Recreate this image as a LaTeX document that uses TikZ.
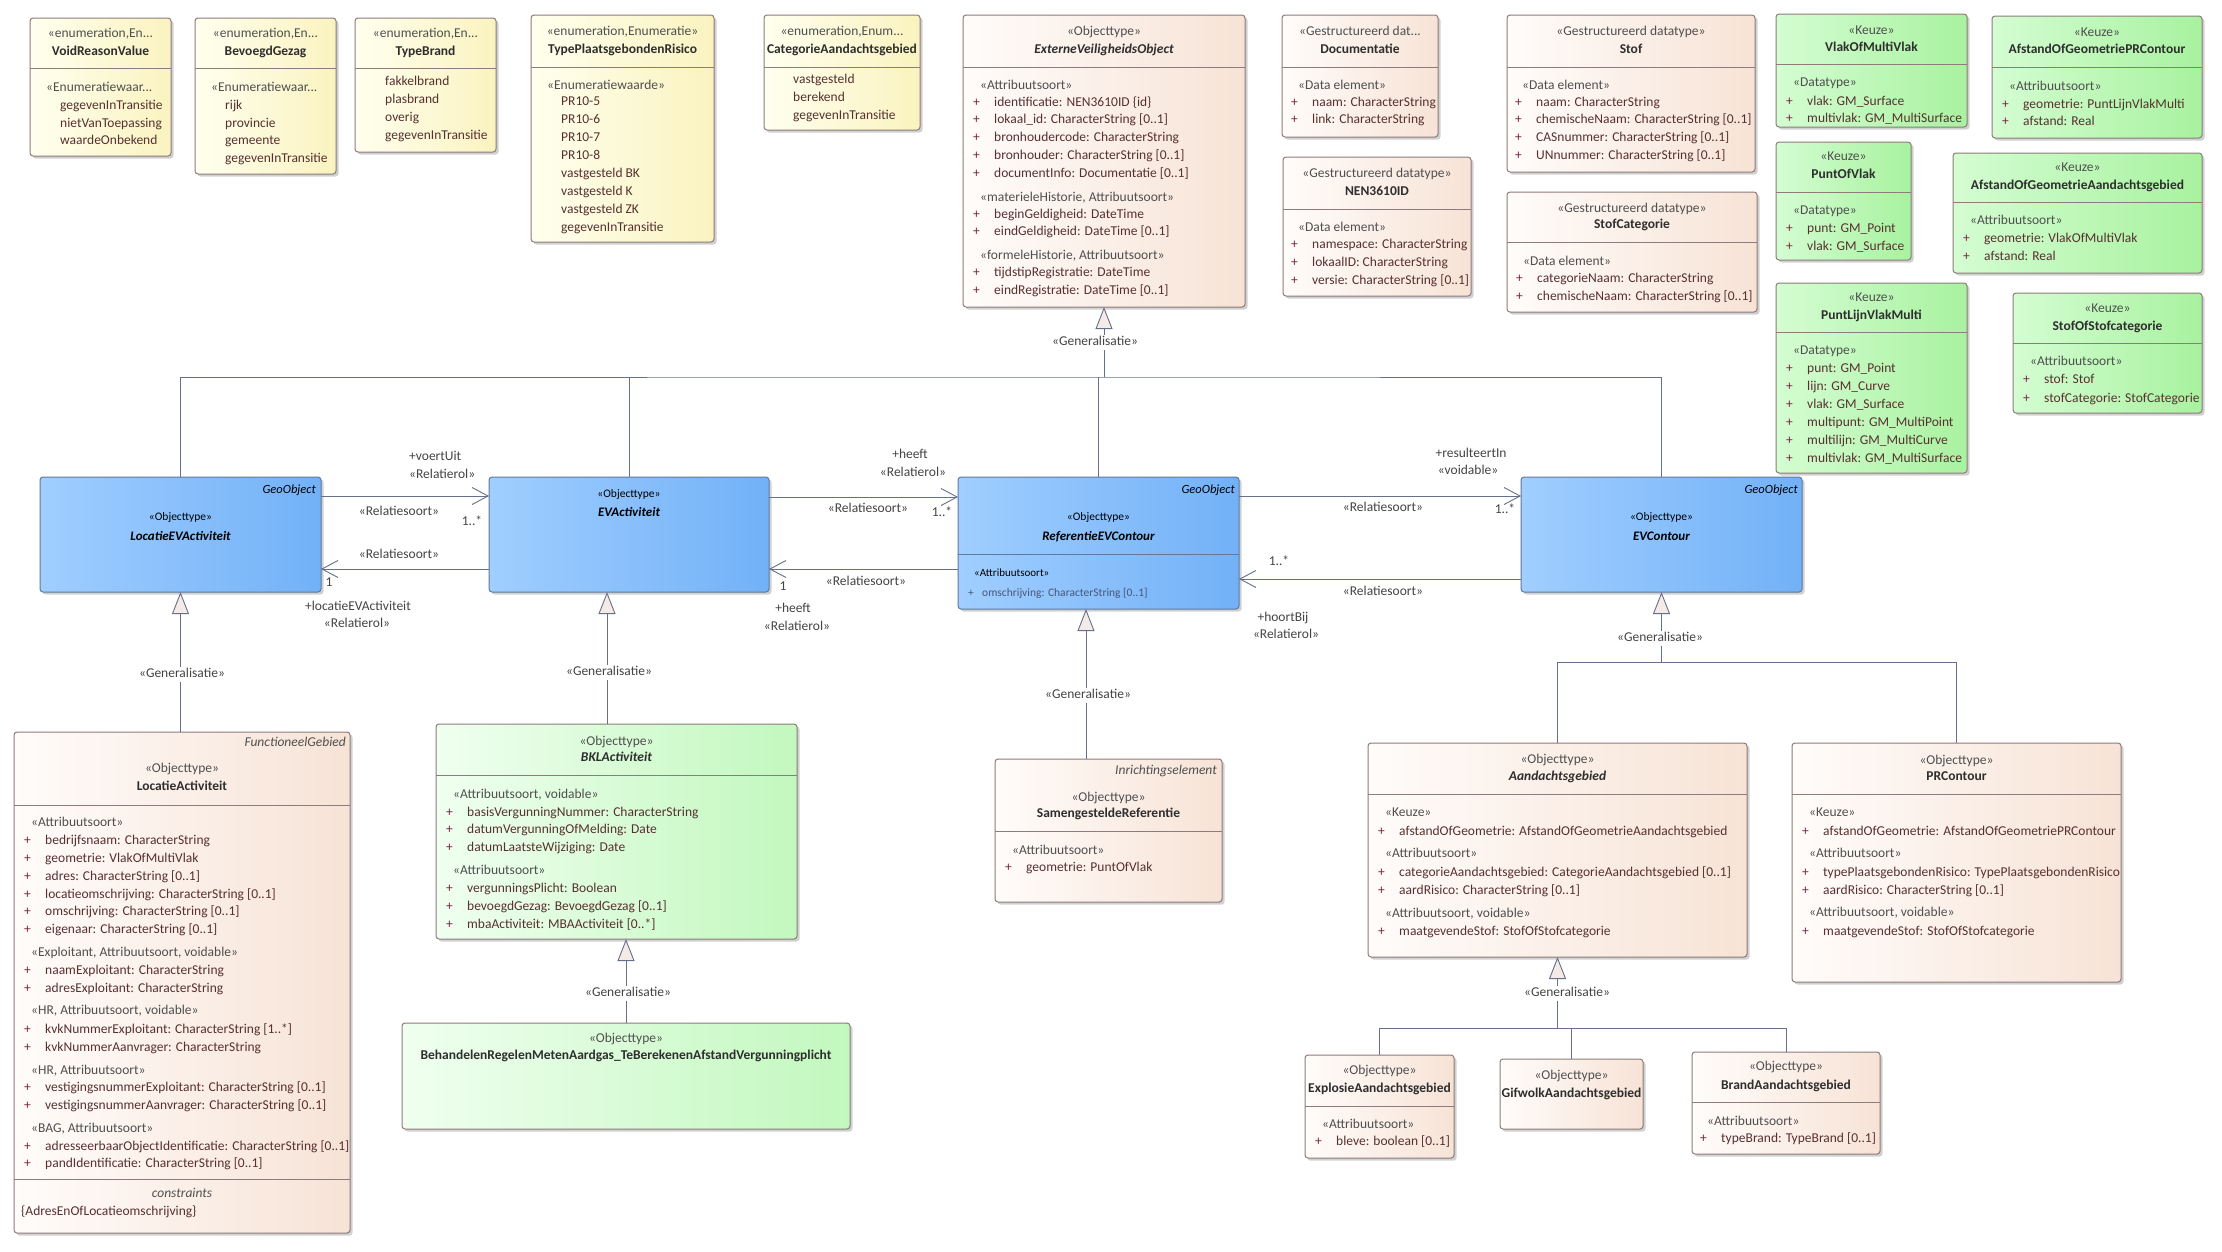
\documentclass[tikz,border=0pt]{standalone}
\usepackage{fontspec}
\setmainfont{Carlito}
\usetikzlibrary{arrows.meta,shadows}
\definecolor{bordc}{HTML}{8E7C7C}
\definecolor{blueb}{HTML}{5F7A9E}
\definecolor{linec}{HTML}{66708C}
\definecolor{yelL}{HTML}{FFFFEE}
\definecolor{yelR}{HTML}{FAF3C0}
\definecolor{peaL}{HTML}{FFFCFA}
\definecolor{peaR}{HTML}{F7E3D6}
\definecolor{grnL}{HTML}{D4FDD2}
\definecolor{grnR}{HTML}{A8F29F}
\definecolor{gr2L}{HTML}{F0FFF0}
\definecolor{gr2R}{HTML}{C2F8BE}
\definecolor{bluL}{HTML}{A0CEFF}
\definecolor{bluR}{HTML}{72B1F7}
\definecolor{namec}{HTML}{2E2E2E}
\definecolor{stc}{HTML}{4F4F4F}
\definecolor{attrc}{HTML}{573030}
\definecolor{plusc}{HTML}{7A2345}
\definecolor{labc}{HTML}{444444}
\definecolor{genf}{HTML}{F4EAE6}
\definecolor{refc}{HTML}{4A5675}
\newcommand\mainf{\fontsize{13.5}{16}\selectfont}
\newcommand\attp{\makebox[21pt][l]{\textcolor{plusc}{+}}}
\newcommand\stt{\hspace*{7pt}\color{stc}}
\newcommand\enit{\hspace*{21pt}}
\newcommand\ubox[6]{\node[#2,minimum width=#5pt,minimum height=#6pt] (#1) at (#3,#4) {};}
\newcommand\udiv[2]{\draw[divl] (#1.west |- 0,#2) -- (#1.east |- 0,#2);}
\newcommand\compt[3]{\foreach \lnY/\lnT [count=\lnI] in {#3}{\node[ln] (#1-\lnI) at (#2,\lnY) {\lnT};}}
\newcommand\hdr[6]{\node[hd,text=stc] (#1-s) at (#2,#3) {#5};\node[hd,text=namec,font=\mainf\bfseries] (#1-n) at (#2,#4) {#6};}
\begin{document}
\begin{tikzpicture}[x=1pt,y=-1pt,
 box/.style={anchor=north west,inner sep=0pt,outer sep=0pt,rounded corners=3pt,draw=bordc,line width=1pt,
   drop shadow={shadow xshift=2.5pt,shadow yshift=-2.5pt,opacity=0.3,fill=black!60}},
 yelbox/.style={box,left color=yelL,right color=yelR},
 peabox/.style={box,left color=peaL,right color=peaR},
 grnbox/.style={box,left color=grnL,right color=grnR},
 gr2box/.style={box,left color=gr2L,right color=gr2R},
 blubox/.style={box,draw=blueb,left color=bluL,right color=bluR},
 divl/.style={draw=bordc,line width=1pt},
 ln/.style={anchor=west,inner sep=0pt,text height=9.5pt,text depth=2.5pt,text=attrc,font=\mainf},
 hd/.style={anchor=center,inner sep=0pt,text height=9.5pt,text depth=2.5pt,font=\mainf},
 lab/.style={anchor=center,inner sep=0pt,text height=9.5pt,text depth=2.5pt,text=labc,font=\mainf},
 genlab/.style={lab,fill=white,inner sep=1.5pt},
 geo/.style={anchor=east,inner sep=0pt,font=\fontsize{12.5}{14}\selectfont\itshape,text=black,text height=9.5pt,text depth=2.5pt},
 itl/.style={anchor=east,inner sep=0pt,font=\mainf\itshape,text=stc,text height=9.5pt,text depth=2.5pt},
 conn/.style={draw=linec,line width=0.9pt},
 assoc/.style={conn,-{Straight Barb[length=16pt,width=17pt,line width=0.9pt]}},
 gen/.style={conn,-{Triangle[length=22pt,width=17pt,fill=genf,line width=0.9pt]}}
]
\useasboundingbox (0,0) rectangle (2222,1251);
\fill[white] (0,0) rectangle (2222,1251);

% ---------- enumerations ----------
\ubox{vrv}{yelbox}{30}{18}{141}{138}\udiv{vrv}{68}
\hdr{vrv}{100.5}{34}{52}{«enumeration,En...}{VoidReasonValue}
\compt{vrv}{39}{88/{\stt«Enumeratiewaar...},106/{\enit gegevenInTransitie},124/{\enit nietVanToepassing},141/{\enit waardeOnbekend}}

\ubox{bev}{yelbox}{195}{18}{141}{156}\udiv{bev}{68}
\hdr{bev}{265.5}{34}{52}{«enumeration,En...}{BevoegdGezag}
\compt{bev}{204}{88/{\stt«Enumeratiewaar...},106/{\enit rijk},124/{\enit provincie},141/{\enit gemeente},159/{\enit gegevenInTransitie}}

\ubox{tb}{yelbox}{355}{18}{141}{134}\udiv{tb}{68}
\hdr{tb}{425.5}{34}{52}{«enumeration,En...}{TypeBrand}
\compt{tb}{364}{82/{\enit fakkelbrand},100/{\enit plasbrand},118/{\enit overig},136/{\enit gegevenInTransitie}}

\ubox{tpr}{yelbox}{531}{15}{183}{227}\udiv{tpr}{67}
\hdr{tpr}{622.5}{32}{50}{«enumeration,Enumeratie»}{TypePlaatsgebondenRisico}
\compt{tpr}{540}{86/{\stt«Enumeratiewaarde»},102/{\enit PR10-5},120/{\enit PR10-6},138/{\enit PR10-7},156/{\enit PR10-8},174/{\enit vastgesteld BK},192/{\enit vastgesteld K},210/{\enit vastgesteld ZK},228/{\enit gegevenInTransitie}}

\ubox{cat}{yelbox}{764}{15}{156}{115}\udiv{cat}{67}
\hdr{cat}{842}{32}{50}{«enumeration,Enum...}{CategorieAandachtsgebied}
\compt{cat}{772}{80/{\enit vastgesteld},98/{\enit berekend},116/{\enit gegevenInTransitie}}

% ---------- ExterneVeiligheidsObject ----------
\ubox{evo}{peabox}{963}{15}{282}{292}\udiv{evo}{67}
\hdr{evo}{1104}{32}{50}{«Objecttype»}{\itshape ExterneVeiligheidsObject}
\compt{evo}{973}{86/{\stt«Attribuutsoort»},103/{\attp identificatie: NEN3610ID \{id\}},120/{\attp lokaal\_id: CharacterString [0..1]},138/{\attp bronhoudercode: CharacterString},156/{\attp bronhouder: CharacterString [0..1]},174/{\attp documentInfo: Documentatie [0..1]},198/{\stt«materieleHistorie, Attribuutsoort»},215/{\attp beginGeldigheid: DateTime},232/{\attp eindGeldigheid: DateTime [0..1]},256/{\stt«formeleHistorie, Attribuutsoort»},273/{\attp tijdstipRegistratie: DateTime},291/{\attp eindRegistratie: DateTime [0..1]}}

% ---------- datatypes ----------
\ubox{doc}{peabox}{1282}{15}{156}{122}\udiv{doc}{67}
\hdr{doc}{1360}{32}{50}{«Gestructureerd dat...}{Documentatie}
\compt{doc}{1291}{86/{\stt«Data element»},103/{\attp naam: CharacterString},120/{\attp link: CharacterString}}

\ubox{nen}{peabox}{1283}{157}{188}{139}\udiv{nen}{209}
\hdr{nen}{1377}{174}{192}{«Gestructureerd datatype»}{NEN3610ID}
\compt{nen}{1291}{228/{\stt«Data element»},245/{\attp namespace: CharacterString},263/{\attp lokaalID: CharacterString},281/{\attp versie: CharacterString [0..1]}}

\ubox{stof}{peabox}{1507}{15}{248}{157}\udiv{stof}{67}
\hdr{stof}{1631}{32}{50}{«Gestructureerd datatype»}{Stof}
\compt{stof}{1515}{86/{\stt«Data element»},103/{\attp naam: CharacterString},120/{\attp chemischeNaam: CharacterString [0..1]},138/{\attp CASnummer: CharacterString [0..1]},156/{\attp UNnummer: CharacterString [0..1]}}

\ubox{stc}{peabox}{1507}{192}{250}{120}\udiv{stc}{242}
\hdr{stc}{1632}{209}{225}{«Gestructureerd datatype»}{StofCategorie}
\compt{stc}{1516}{262/{\stt«Data element»},279/{\attp categorieNaam: CharacterString},297/{\attp chemischeNaam: CharacterString [0..1]}}

% ---------- Keuze ----------
\ubox{vmv}{grnbox}{1776}{14}{191}{113}\udiv{vmv}{64}
\hdr{vmv}{1871.5}{31}{48}{«Keuze»}{VlakOfMultiVlak}
\compt{vmv}{1786}{83/{\stt«Datatype»},102/{\attp vlak: GM\_Surface},119/{\attp multivlak: GM\_MultiSurface}}

\ubox{apr}{grnbox}{1992}{16}{210}{122}\udiv{apr}{67}
\hdr{apr}{2097}{33}{50}{«Keuze»}{AfstandOfGeometriePRContour}
\compt{apr}{2002}{87/{\stt«Attribuutsoort»},105/{\attp geometrie: PuntLijnVlakMulti},122/{\attp afstand: Real}}

\ubox{pov}{grnbox}{1776}{142}{135}{118}\udiv{pov}{192}
\hdr{pov}{1843.5}{157}{175}{«Keuze»}{PuntOfVlak}
\compt{pov}{1786}{211/{\stt«Datatype»},229/{\attp punt: GM\_Point},247/{\attp vlak: GM\_Surface}}

\ubox{aag}{grnbox}{1953}{153}{249}{120}\udiv{aag}{202}
\hdr{aag}{2077.5}{168}{186}{«Keuze»}{AfstandOfGeometrieAandachtsgebied}
\compt{aag}{1963}{221/{\stt«Attribuutsoort»},239/{\attp geometrie: VlakOfMultiVlak},257/{\attp afstand: Real}}

\ubox{plv}{grnbox}{1776}{283}{191}{190}\udiv{plv}{332}
\hdr{plv}{1871.5}{298}{316}{«Keuze»}{PuntLijnVlakMulti}
\compt{plv}{1786}{351/{\stt«Datatype»},369/{\attp punt: GM\_Point},387/{\attp lijn: GM\_Curve},405/{\attp vlak: GM\_Surface},423/{\attp multipunt: GM\_MultiPoint},441/{\attp multilijn: GM\_MultiCurve},459/{\attp multivlak: GM\_MultiSurface}}

\ubox{sos}{grnbox}{2013}{293}{189}{120}\udiv{sos}{343}
\hdr{sos}{2107.5}{309}{327}{«Keuze»}{StofOfStofcategorie}
\compt{sos}{2023}{362/{\stt«Attribuutsoort»},380/{\attp stof: Stof},399/{\attp stofCategorie: StofCategorie}}

% ---------- blue object types ----------
\ubox{locev}{blubox}{40}{477}{281}{115}
\node[geo] (locev-g) at (316,490) {GeoObject};
\node[hd,font=\fontsize{11.5}{14}\selectfont] (locev-s) at (180.5,517) {«Objecttype»};
\node[hd,font=\fontsize{13}{15}\selectfont\bfseries\itshape] (locev-n) at (180.5,537) {LocatieEVActiviteit};

\ubox{evact}{blubox}{489}{477}{280}{115}
\node[hd,font=\fontsize{11.5}{14}\selectfont] (evact-s) at (629,494) {«Objecttype»};
\node[hd,font=\fontsize{13}{15}\selectfont\bfseries\itshape] (evact-n) at (629,513) {EVActiviteit};

\ubox{ref}{blubox}{958}{477}{281}{132}
\draw[draw=blueb,line width=1pt] (ref.west |- 0,554) -- (ref.east |- 0,554);
\node[geo] (ref-g) at (1235,490) {GeoObject};
\node[hd,font=\fontsize{11.5}{14}\selectfont] (ref-s) at (1098.5,517) {«Objecttype»};
\node[hd,font=\fontsize{13}{15}\selectfont\bfseries\itshape] (ref-n) at (1098.5,537) {ReferentieEVContour};
\node[ln,font=\fontsize{11}{13}\selectfont,text=black] (ref-1) at (974,573) {«Attribuutsoort»};
\node[ln,font=\fontsize{11.5}{13}\selectfont,text=refc] (ref-2) at (968,593) {\makebox[14pt][l]{+}omschrijving: CharacterString [0..1]};

\ubox{evc}{blubox}{1521}{477}{281}{115}
\node[geo] (evc-g) at (1798,490) {GeoObject};
\node[hd,font=\fontsize{11.5}{14}\selectfont] (evc-s) at (1661.5,517) {«Objecttype»};
\node[hd,font=\fontsize{13}{15}\selectfont\bfseries\itshape] (evc-n) at (1661.5,537) {EVContour};

% ---------- LocatieActiviteit ----------
\ubox{la}{peabox}{14}{732}{336}{501}\udiv{la}{805}\udiv{la}{1179}
\node[itl] (la-g) at (346,743) {FunctioneelGebied};
\hdr{la}{182}{769}{787}{«Objecttype»}{LocatieActiviteit}
\compt{la}{24}{823/{\stt«Attribuutsoort»},841/{\attp bedrijfsnaam: CharacterString},859/{\attp geometrie: VlakOfMultiVlak},877/{\attp adres: CharacterString [0..1]},895/{\attp locatieomschrijving: CharacterString [0..1]},912/{\attp omschrijving: CharacterString [0..1]},930/{\attp eigenaar: CharacterString [0..1]},953/{\stt«Exploitant, Attribuutsoort, voidable»},971/{\attp naamExploitant: CharacterString},989/{\attp adresExploitant: CharacterString},1011/{\stt«HR, Attribuutsoort, voidable»},1030/{\attp kvkNummerExploitant: CharacterString [1..*]},1048/{\attp kvkNummerAanvrager: CharacterString},1071/{\stt«HR, Attribuutsoort»},1088/{\attp vestigingsnummerExploitant: CharacterString [0..1]},1106/{\attp vestigingsnummerAanvrager: CharacterString [0..1]},1129/{\stt«BAG, Attribuutsoort»},1147/{\attp adresseerbaarObjectIdentificatie: CharacterString [0..1]},1164/{\attp pandIdentificatie: CharacterString [0..1]}}
\node[hd,font=\mainf\itshape,text=stc] (la-c) at (182,1194) {constraints};
\node[ln] (la-k) at (21,1212) {\{AdresEnOfLocatieomschrijving\}};

% ---------- BKL ----------
\ubox{bkl}{gr2box}{436}{724}{361}{215}\udiv{bkl}{775}
\hdr{bkl}{616.5}{742}{758}{«Objecttype»}{\itshape BKLActiviteit}
\compt{bkl}{446}{795/{\stt«Attribuutsoort, voidable»},813/{\attp basisVergunningNummer: CharacterString},830/{\attp datumVergunningOfMelding: Date},848/{\attp datumLaatsteWijziging: Date},871/{\stt«Attribuutsoort»},889/{\attp vergunningsPlicht: Boolean},907/{\attp bevoegdGezag: BevoegdGezag [0..1]},925/{\attp mbaActiviteit: MBAActiviteit [0..*]}}

\ubox{beh}{gr2box}{402}{1023}{448}{106}
\hdr{beh}{626}{1039}{1056}{«Objecttype»}{BehandelenRegelenMetenAardgas\_TeBerekenenAfstandVergunningplicht}

% ---------- SamengesteldeReferentie ----------
\ubox{sr}{peabox}{995}{759}{227}{143}\udiv{sr}{831}
\node[itl] (sr-g) at (1217,771) {Inrichtingselement};
\hdr{sr}{1108.5}{798}{814}{«Objecttype»}{SamengesteldeReferentie}
\compt{sr}{1005}{851/{\stt«Attribuutsoort»},868/{\attp geometrie: PuntOfVlak}}

% ---------- Aandachtsgebied / PRContour ----------
\ubox{aand}{peabox}{1368}{743}{379}{214}\udiv{aand}{794}
\hdr{aand}{1557.5}{760}{777}{«Objecttype»}{\itshape Aandachtsgebied}
\compt{aand}{1378}{813/{\stt«Keuze»},832/{\attp afstandOfGeometrie: AfstandOfGeometrieAandachtsgebied},854/{\stt«Attribuutsoort»},873/{\attp categorieAandachtsgebied: CategorieAandachtsgebied [0..1]},891/{\attp aardRisico: CharacterString [0..1]},914/{\stt«Attribuutsoort, voidable»},932/{\attp maatgevendeStof: StofOfStofcategorie}}

\ubox{prc}{peabox}{1792}{743}{329}{239}\udiv{prc}{794}
\hdr{prc}{1956.5}{761}{777}{«Objecttype»}{PRContour}
\compt{prc}{1802}{813/{\stt«Keuze»},832/{\attp afstandOfGeometrie: AfstandOfGeometriePRContour},854/{\stt«Attribuutsoort»},873/{\attp typePlaatsgebondenRisico: TypePlaatsgebondenRisico},891/{\attp aardRisico: CharacterString [0..1]},913/{\stt«Attribuutsoort, voidable»},932/{\attp maatgevendeStof: StofOfStofcategorie}}

\ubox{expl}{peabox}{1305}{1055}{149}{103}\udiv{expl}{1106}
\hdr{expl}{1379.5}{1071}{1089}{«Objecttype»}{ExplosieAandachtsgebied}
\compt{expl}{1315}{1125/{\stt«Attribuutsoort»},1142/{\attp bleve: boolean [0..1]}}

\ubox{gif}{peabox}{1500}{1059}{143}{70}
\hdr{gif}{1571.5}{1076}{1094}{«Objecttype»}{GifwolkAandachtsgebied}

\ubox{brand}{peabox}{1692}{1052}{188}{102}\udiv{brand}{1102}
\hdr{brand}{1786}{1067}{1086}{«Objecttype»}{BrandAandachtsgebied}
\compt{brand}{1700}{1122/{\stt«Attribuutsoort»},1139/{\attp typeBrand: TypeBrand [0..1]}}

% ---------- generalisations ----------
\coordinate (bar1) at (1104,377);
\draw[conn] (locev.north) |- (bar1) -| (evc.north);
\draw[conn] (evact.north) -- (evact.north |- bar1);
\draw[conn] (ref.north) -- (ref.north |- bar1);
\draw[gen] (bar1) -- (evo.south);
\node[genlab] (g1) at (1095,342) {«Generalisatie»};

\draw[gen] (la.north -| locev.south) -- (locev.south);
\node[genlab] (g2) at (182,674) {«Generalisatie»};

\draw[gen] (bkl.north -| 607,0) -- (evact.south -| 607,0);
\node[genlab] (g3) at (609,672) {«Generalisatie»};

\draw[gen] (beh.north) -- (bkl.south -| beh.north);
\node[genlab] (g4) at (628,993) {«Generalisatie»};

\draw[gen] (sr.north -| 1086,0) -- (ref.south -| 1086,0);
\node[genlab] (g5) at (1088,695) {«Generalisatie»};

\coordinate (bar2) at (1661.5,662);
\draw[conn] (aand.north) |- (bar2) -| (prc.north);
\draw[gen] (bar2) -- (evc.south);
\node[genlab] (g6) at (1660,638) {«Generalisatie»};

\coordinate (bar3) at (1557.5,1028);
\draw[conn] (expl.north) |- (bar3) -| (brand.north);
\draw[conn] (gif.north) -- (gif.north |- bar3);
\draw[gen] (bar3) -- (aand.south);
\node[genlab] (g7) at (1567,993) {«Generalisatie»};

% ---------- associations ----------
\draw[assoc] (locev.east |- 0,496) -- (evact.west |- 0,496);
\node[lab,anchor=west] (a1a) at (409,457) {+voertUit};
\node[lab,anchor=west] (a1b) at (409,475) {«Relatierol»};
\node[lab] (a1c) at (399,512) {«Relatiesoort»};
\node[lab] (a1d) at (472,522) {1..*};

\draw[assoc] (evact.west |- 0,569) -- (locev.east |- 0,569);
\node[lab] (a2c) at (399,555) {«Relatiesoort»};
\node[lab] (a2d) at (329,583) {1};
\node[lab] (a2a) at (358,607) {+locatieEVActiviteit};
\node[lab] (a2b) at (357,624) {«Relatierol»};

\draw[assoc] (evact.east |- 0,497) -- (ref.west |- 0,497);
\node[lab] (a3a) at (910,455) {+heeft};
\node[lab] (a3b) at (913,473) {«Relatierol»};
\node[lab] (a3c) at (868,509) {«Relatiesoort»};
\node[lab] (a3d) at (942,513) {1..*};

\draw[assoc] (ref.west |- 0,569) -- (evact.east |- 0,569);
\node[lab] (a4c) at (866,582) {«Relatiesoort»};
\node[lab] (a4d) at (783,587) {1};
\node[lab] (a4a) at (793,609) {+heeft};
\node[lab] (a4b) at (797,627) {«Relatierol»};

\draw[assoc] (ref.east |- 0,496) -- (evc.west |- 0,496);
\node[lab] (a5a) at (1471,454) {+resulteertIn};
\node[lab] (a5b) at (1468,471) {«voidable»};
\node[lab] (a5c) at (1383,508) {«Relatiesoort»};
\node[lab] (a5d) at (1505,510) {1..*};

\draw[assoc] (evc.west |- 0,579) -- (ref.east |- 0,579);
\node[lab] (a6d) at (1279,562) {1..*};
\node[lab] (a6c) at (1383,592) {«Relatiesoort»};
\node[lab] (a6a) at (1283,618) {+hoortBij};
\node[lab] (a6b) at (1286,635) {«Relatierol»};
\end{tikzpicture}
\end{document}
